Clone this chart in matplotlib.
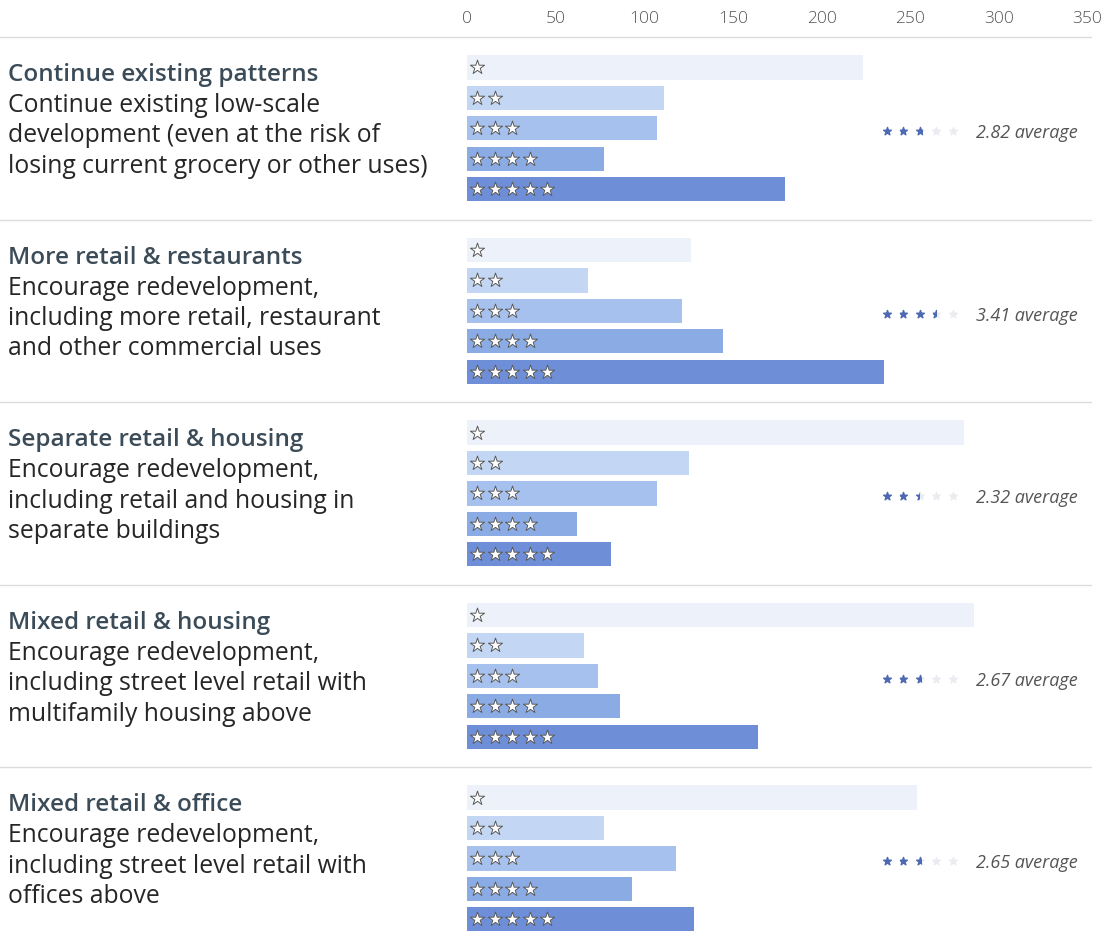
import matplotlib
matplotlib.use("Agg")
import matplotlib.pyplot as plt
import matplotlib.transforms as mtransforms
from matplotlib.patches import Rectangle
from matplotlib.lines import Line2D

plt.rcParams['font.family'] = ['Open Sans', 'DejaVu Sans']

# options (title + description lines)
titles = ["Continue existing patterns", "More retail & restaurants",
          "Separate retail & housing", "Mixed retail & housing",
          "Mixed retail & office"]
descriptions = [
    ["Continue existing low-scale", "development (even at the risk of",
     "losing current grocery or other uses)"],
    ["Encourage redevelopment,", "including more retail, restaurant",
     "and other commercial uses"],
    ["Encourage redevelopment,", "including retail and housing in",
     "separate buildings"],
    ["Encourage redevelopment,", "including street level retail with",
     "multifamily housing above"],
    ["Encourage redevelopment,", "including street level retail with",
     "offices above"],
]
# counts for 1..5 stars
one_star = [223, 126, 280, 286, 254]
two_star = [111, 68, 125, 66, 77]
three_star = [107, 121, 107, 74, 118]
four_star = [77, 144, 62, 86, 93]
five_star = [179, 235, 81, 164, 128]
averages = [2.82, 3.41, 2.32, 2.67, 2.65]
ticks = [0, 50, 100, 150, 200, 250, 300, 350]

bar_colors = ["#edf2fa", "#c3d7f5", "#a7c1ee", "#8babe4", "#6e8fd7"]

fig = plt.figure(figsize=(11.02, 9.37), dpi=100)
ax = fig.add_axes([0.4241, 0.0, 0.5628, 0.9594])
ax.set_xlim(0, 350)
ax.set_ylim(28.55, -1)
for s in ax.spines.values():
    s.set_visible(False)
ax.xaxis.tick_top()
ax.set_xticks(ticks)
ax.set_xticklabels([str(t) for t in ticks])
ax.tick_params(axis='x', length=0, pad=8, labelsize=12.5, labelcolor="#555555")
for lab in ax.get_xticklabels():
    lab.set_fontweight('light')
ax.set_yticks([])

counts = [one_star, two_star, three_star, four_star, five_star]
left_tr = mtransforms.blended_transform_factory(fig.transFigure, ax.transData)
ax_tr = mtransforms.blended_transform_factory(ax.transAxes, ax.transData)

# separator lines
for g in range(len(titles)):
    yline = g * 6 - 1
    ax.add_line(Line2D([0.0, 0.99], [yline, yline], transform=left_tr,
                       color="#dcdcdc", lw=1, clip_on=False))

for g in range(len(titles)):
    base = g * 6
    for r in range(5):
        y = base + r
        ax.barh(y, counts[r][g], height=0.8, color=bar_colors[r], zorder=2)
        # stars inside the bar
        for k in range(r + 1):
            off = mtransforms.ScaledTranslation((10 + 17.5 * k) / 100, 0,
                                                fig.dpi_scale_trans)
            ax.scatter([0], [y], marker='*', s=115, facecolor='white',
                       edgecolor='#5a5a5a', linewidth=0.7, zorder=3,
                       transform=ax.transData + off, clip_on=False)
    # left labels
    ax.text(0.0073, base + 0.22, titles[g], transform=left_tr, fontsize=17.5,
            fontweight='semibold', color="#3b4c58", va='center', ha='left')
    for i, line in enumerate(descriptions[g]):
        ax.text(0.0073, base + 1.22 + i, line, transform=left_tr,
                fontsize=17.8, color="#262626", va='center', ha='left')
    # average stars
    avg = averages[g]
    ya = base + 2.1
    for k in range(5):
        xs = 0.6766 + 0.0266 * k
        ax.scatter([xs], [ya], marker='*', s=34, color="#ebebf1",
                   transform=ax_tr, zorder=3, clip_on=False)
        frac = min(max(avg - k, 0), 1)
        if frac > 0:
            sc = ax.scatter([xs], [ya], marker='*', s=34, color="#4d69b3",
                            transform=ax_tr, zorder=4)
            w = 0.0115
            clip = Rectangle((xs - w / 2, ya - 0.5), w * frac, 1.0,
                             transform=ax_tr)
            sc.set_clip_path(clip)
    ax.text(0.8195, ya + 0.03, f"{avg:.2f} average", transform=ax_tr,
            fontsize=13, fontstyle='italic', color="#555555",
            va='center', ha='left')

fig.savefig("out.png", dpi=100)
